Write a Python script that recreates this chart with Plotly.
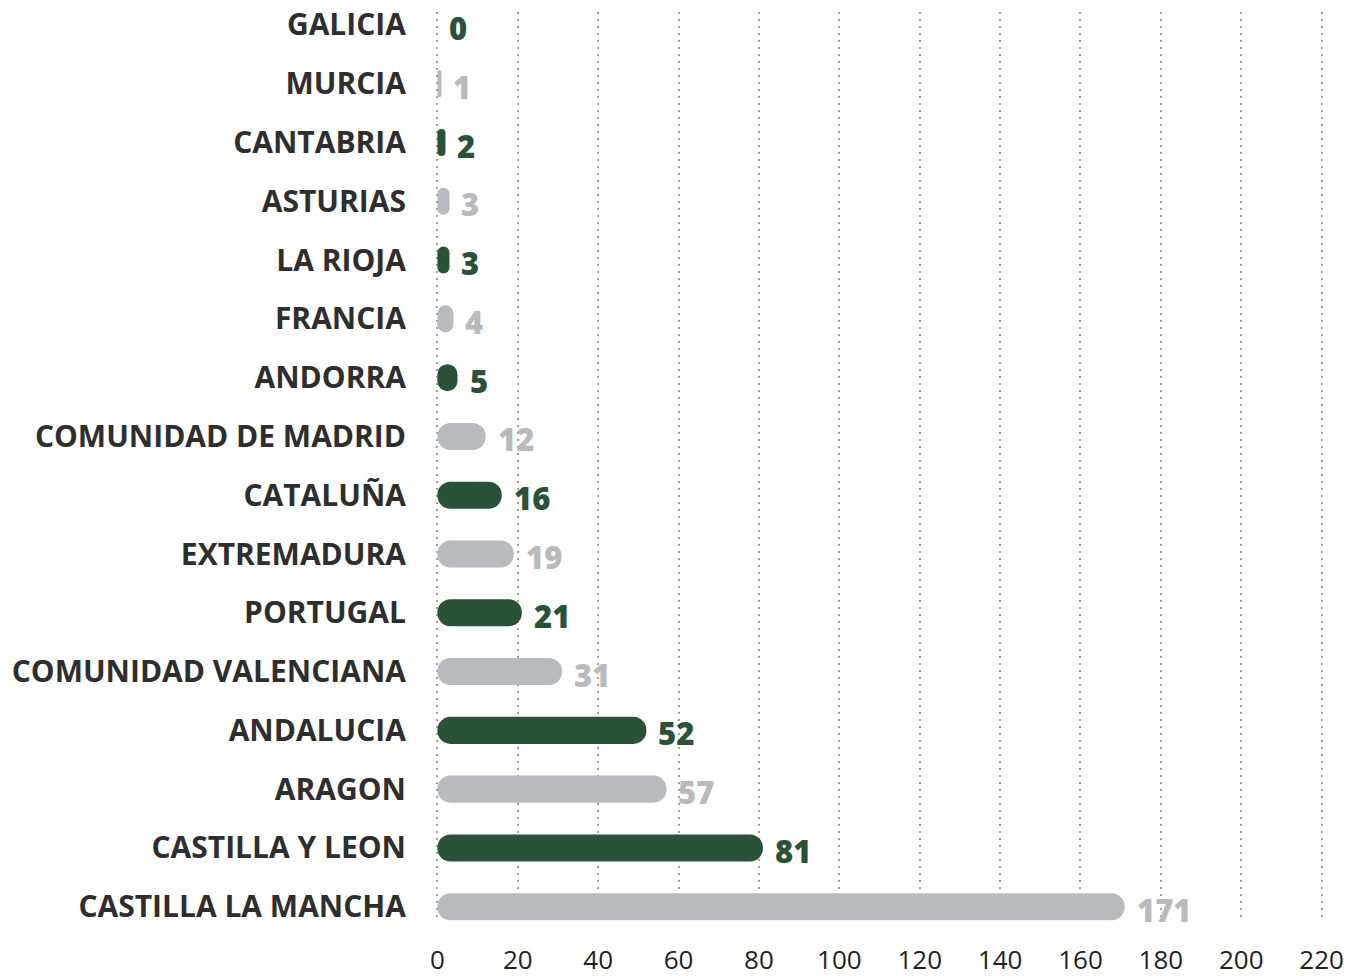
import plotly.graph_objects as go

categories = ["GALICIA", "MURCIA", "CANTABRIA", "ASTURIAS", "LA RIOJA", "FRANCIA",
              "ANDORRA", "COMUNIDAD DE MADRID", "CATALUÑA", "EXTREMADURA", "PORTUGAL",
              "COMUNIDAD VALENCIANA", "ANDALUCIA", "ARAGON", "CASTILLA Y LEON",
              "CASTILLA LA MANCHA"]
values = [0, 1, 2, 3, 3, 4, 5, 12, 16, 19, 21, 31, 52, 57, 81, 171]
tick_vals = [0, 20, 40, 60, 80, 100, 120, 140, 160, 180, 200, 220]

GREEN = "#2a5239"
GRAY = "#b9babd"
colors = [GREEN if i % 2 == 0 else GRAY for i in range(len(values))]

fig = go.Figure()
fig.add_trace(go.Bar(
    x=values, base=[0] * len(values), y=categories, orientation="h",
    marker=dict(color=colors, line=dict(width=0), cornerradius="50%"),
    hovertemplate="%{y}: %{x}<extra></extra>",
))

for c, v, col in zip(categories, values, colors):
    fig.add_annotation(
        x=v, y=c, text=str(v), showarrow=False, xanchor="left", yanchor="middle",
        xshift=10, yshift=-3,
        font=dict(family="Open Sans", size=31, color=col, weight=800),
    )

fig.update_layout(
    width=1365, height=976,
    margin=dict(l=435, r=41, t=12, b=54),
    paper_bgcolor="white", plot_bgcolor="white",
    bargap=0.54,
    showlegend=False,
    font=dict(family="Open Sans", color="#333333"),
    xaxis=dict(
        range=[-0.6, 220.6], tickvals=tick_vals, ticktext=[str(t) for t in tick_vals],
        showgrid=True, gridcolor="#a0a0a0", griddash="2px,5px", gridwidth=1.5,
        zeroline=False, showline=False, ticks="",
        tickfont=dict(family="Open Sans", size=26, color="#222222"),
        ticklabelstandoff=20, automargin=False,
    ),
    yaxis=dict(
        categoryorder="array", categoryarray=categories,
        range=[15.26, -0.22],
        showgrid=False, zeroline=False, showline=False, ticks="",
        tickfont=dict(family="Open Sans", size=30, color="#2e2e2e", weight=700),
        ticklabelstandoff=28, automargin=False,
    ),
)

fig.write_html(
    "out.html",
    config={"displayModeBar": False},
    post_script="document.body.style.margin='0';document.body.style.overflow='hidden';",
)
